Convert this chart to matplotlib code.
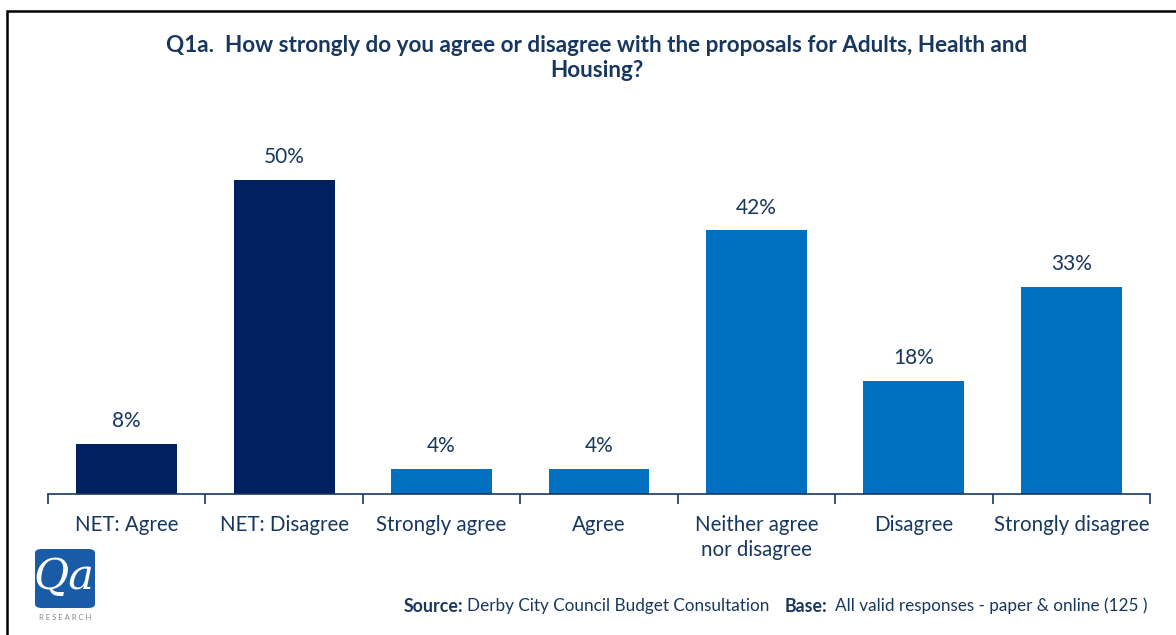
import matplotlib
matplotlib.use("Agg")
import matplotlib.pyplot as plt
from matplotlib.patches import Rectangle, FancyBboxPatch
import numpy as np

# data
categories = ['NET: Agree', 'NET: Disagree', 'Strongly agree', 'Agree',
              'Neither agree\nnor disagree', 'Disagree', 'Strongly disagree']
values = [8, 50, 4, 4, 42, 18, 33]
is_net = [True, True, False, False, False, False, False]

navy = '#002060'
blue = '#0070C0'
text_col = '#17375E'

plt.rcParams['font.family'] = ['Lato', 'DejaVu Sans']

fig = plt.figure(figsize=(11.76, 6.35), dpi=100)
ax = fig.add_axes([48 / 1176, 1 - 494 / 635, 1102 / 1176, 377 / 635])

x = np.arange(len(categories))
colors = [navy if n else blue for n in is_net]
ax.bar(x, values, width=0.64, color=colors)
for xi, v in zip(x, values):
    ax.text(xi, v + 2.0, f'{v}%', ha='center', va='bottom', fontsize=15, color=text_col)

ax.set_xlim(-0.5, len(categories) - 0.5)
ax.set_ylim(0, 60)
ax.set_yticks([])
for s in ['top', 'right', 'left']:
    ax.spines[s].set_visible(False)
ax.spines['bottom'].set_color(text_col)
ax.spines['bottom'].set_linewidth(1.2)

ax.set_xticks(x)
ax.set_xticklabels(categories, fontsize=14.8, color=text_col, va='top', linespacing=1.3)
ax.tick_params(axis='x', which='major', length=0, pad=15)
ax.set_xticks(np.arange(-0.5, len(categories)), minor=True)
ax.tick_params(axis='x', which='minor', length=7, width=1.2, color=text_col, direction='out')

# title
fig.text(597 / 1176, 1 - 58 / 635,
         'Q1a.  How strongly do you agree or disagree with the proposals for Adults, Health and\nHousing?',
         ha='center', va='center', fontsize=16.2, fontweight='bold', color=text_col,
         linespacing=1.25)

# frame
fig.add_artist(Rectangle((7 / 1176, -0.1), 1.2, 1 - 11 / 635 + 0.1,
                         transform=fig.transFigure, fill=False, lw=1.8, ec='black'))

# source line
src_y = 1 - 606 / 635
fig.text(404 / 1176, src_y, 'Source:', fontsize=12.8, fontweight='bold',
         color=text_col, va='center', ha='left')
fig.text(467 / 1176, src_y, 'Derby City Council Budget Consultation', fontsize=12.3,
         color=text_col, va='center', ha='left')
fig.text(785 / 1176, src_y, 'Base:', fontsize=12.8, fontweight='bold',
         color=text_col, va='center', ha='left')
fig.text(835 / 1176, src_y, 'All valid responses - paper & online (125 )', fontsize=12.3,
         color=text_col, va='center', ha='left')

# logo
fig.add_artist(FancyBboxPatch((35 / 1176, 1 - 608 / 635), 60 / 1176, 59 / 635,
                              boxstyle='round,pad=0,rounding_size=0.006',
                              transform=fig.transFigure, fc='#1A5BA8', ec='none'))
fig.text(64 / 1176, 1 - 577 / 635, 'Qa', fontsize=31, fontstyle='italic', family='DejaVu Serif',
         color='white', ha='center', va='center')
fig.text(65 / 1176, 1 - 618 / 635, 'R E S E A R C H', fontsize=5.5, color='#888888',
         ha='center', va='center')

fig.savefig('out.png', dpi=100)
